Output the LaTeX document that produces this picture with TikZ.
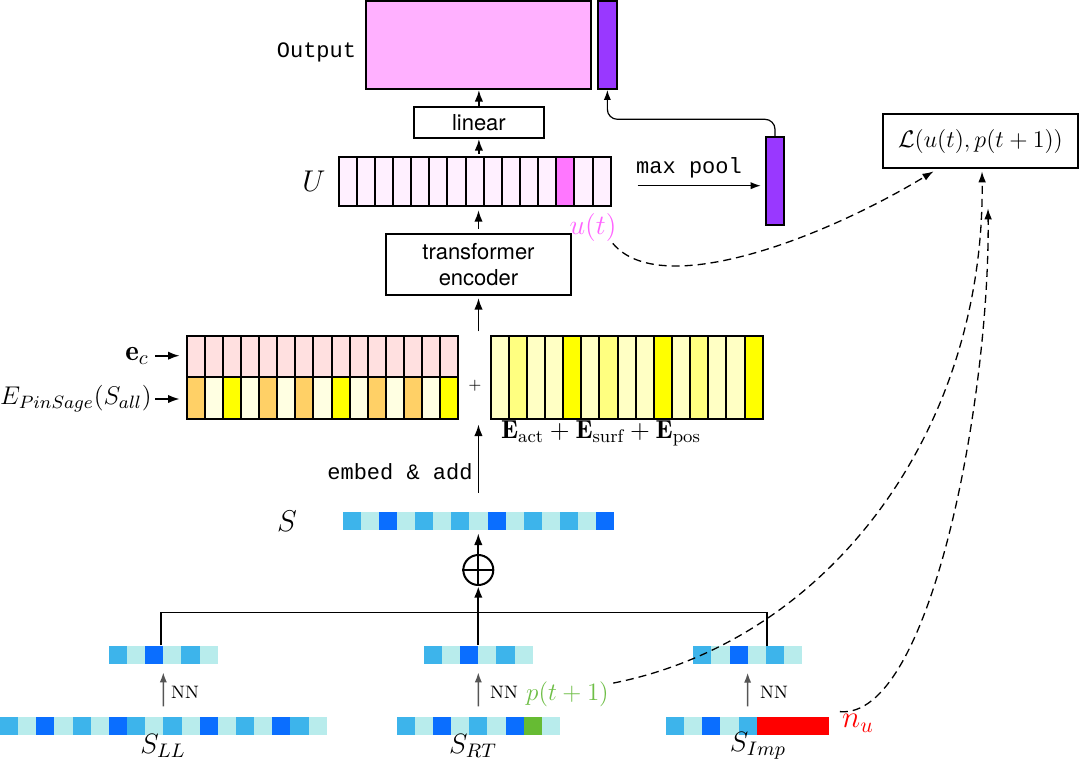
\RequirePackage{fix-cm}
\documentclass[tikz,border=0pt]{standalone}
\usepackage{fontspec}
\setsansfont{TeX Gyre Heros}
\setmonofont{Liberation Mono}
\usetikzlibrary{arrows.meta,calc,fit}
\definecolor{outpink}{RGB}{255,176,255}
\definecolor{purp}{RGB}{153,56,255}
\definecolor{ucell}{RGB}{255,240,255}
\definecolor{uhi}{RGB}{255,119,255}
\definecolor{utxt}{RGB}{255,100,255}
\definecolor{ecpink}{RGB}{255,224,224}
\definecolor{orng}{RGB}{255,208,102}
\definecolor{cream}{RGB}{255,255,226}
\definecolor{yel}{RGB}{255,255,0}
\definecolor{ylight}{RGB}{255,255,196}
\definecolor{ymed}{RGB}{255,255,128}
\definecolor{bmid}{RGB}{61,180,235}
\definecolor{blight}{RGB}{184,236,236}
\definecolor{bdark}{RGB}{10,110,255}
\definecolor{grn}{RGB}{102,187,51}
\definecolor{ptxt}{RGB}{110,190,70}
\definecolor{nngray}{RGB}{85,85,85}
\begin{document}
\begin{tikzpicture}[x=0.5pt,y=-0.5pt,
  arr/.style={-{Latex[length=5.8pt,width=4.2pt]}, line width=0.85pt},
  thinarr/.style={-{Latex[length=5pt,width=3.6pt]}, line width=0.6pt},
  nnarr/.style={-{Latex[length=5pt,width=3.6pt]}, line width=0.7pt, draw=nngray},
  dasharr/.style={-{Latex[length=5.5pt,width=3.8pt]}, line width=0.65pt, dash pattern=on 4pt off 2.5pt},
  bcell/.style={line width=1pt, draw=black},
  boxed/.style={draw, line width=1pt, inner sep=0},
  region/.style={inner sep=0},
  sans/.style={font=\sffamily\fontsize{11}{13.3}\selectfont},
  mono/.style={font=\ttfamily\fontsize{11}{13}\selectfont},
  nnlbl/.style={font=\fontsize{9}{11}\selectfont}
]
\useasboundingbox (0,0) rectangle (1080,765);

% ---------- Output ----------
\node[boxed, fill=outpink, fit={(366,1)(591,89)}] (out) {};
\node[boxed, fill=purp, fit={(597.7,1)(617,89)}] (ob) {};
\node[mono] (outlbl) at (316.5,52) {Output};

% ---------- linear ----------
\node[boxed, sans, minimum width=65.2pt, minimum height=15.7pt] (lin) at (478.9,122.3) {linear};

% ---------- U row ----------
\foreach \c [count=\i from 0] in {ucell,ucell,ucell,ucell,ucell,ucell,ucell,ucell,ucell,ucell,ucell,ucell,uhi,ucell,ucell}
  \draw[bcell, fill=\c] (338.7+\i*18.13,157) rectangle ++(18.13,48.7);
\node[region, fit={(338.7,157)(610.7,205.7)}] (U) {};
\node[font=\fontsize{15}{18}\selectfont] (Ulbl) at (314,181) {$U$};
\node[font=\fontsize{14}{16}\selectfont, text=utxt, inner sep=1pt] (ut) at (593,227) {$u(t)$};

% ---------- transformer ----------
\node[boxed, sans, align=center, minimum width=92.5pt, minimum height=30.5pt] (tr) at (478.5,264.5) {transformer\\encoder};

% ---------- left block ----------
\foreach \c [count=\i from 0] in {ecpink,ecpink,ecpink,ecpink,ecpink,ecpink,ecpink,ecpink,ecpink,ecpink,ecpink,ecpink,ecpink,ecpink,ecpink}
  \draw[bcell, fill=\c] (187+\i*18.07,335.7) rectangle ++(18.07,41.3);
\foreach \c [count=\i from 0] in {orng,cream,yel,cream,orng,cream,orng,cream,yel,cream,orng,cream,orng,cream,yel}
  \draw[bcell, fill=\c] (187+\i*18.07,377) rectangle ++(18.07,42);
\node[region, fit={(187,335.7)(458,419)}] (Lb) {};
\node[font=\fontsize{14.5}{16}\selectfont, anchor=east, inner sep=3pt] (ec) at (155,355.7) {$\mathbf{e}_c$};
\node[font=\fontsize{12.8}{15}\selectfont, anchor=east, inner sep=1.5pt] (ep) at (155,399) {$E_{PinSage}(S_{all})$};
\draw[arr, shorten >=3.5pt] (ec.east) -- (ec.east -| Lb.west);
\draw[arr, shorten >=3.5pt] (ep.east) -- (ep.east -| Lb.west);
\node[font=\fontsize{7.5}{9}\selectfont] (plus) at (475,386) {$+$};

% ---------- right block ----------
\foreach \c [count=\i from 0] in {ylight,ymed,ylight,ylight,yel,ylight,ymed,ylight,ylight,yel,ylight,ymed,ylight,ylight,yel}
  \draw[bcell, fill=\c] (490.7+\i*18.13,335.7) rectangle ++(18.13,83.3);
\node[region, fit={(490.7,335.7)(762.7,419)}] (Rb) {};
\node[font=\fontsize{13}{15}\selectfont] (eact) at (601,433) {$\mathbf{E}_{\mathrm{act}}+\mathbf{E}_{\mathrm{surf}}+\mathbf{E}_{\mathrm{pos}}$};

% ---------- S row ----------
\foreach \c [count=\i from 0] in {bmid,blight,bdark,blight,bmid,blight,bmid,blight,bdark,blight,bmid,blight,bmid,blight,bdark}
  \fill[\c] (342.7+\i*18.1,512.3) rectangle ++(18.1,17.7);
\node[region, fit={(342.7,512.3)(614.2,530)}] (S) {};
\node[font=\fontsize{15}{18}\selectfont] (Slbl) at (287,521) {$S$};
\node[mono, anchor=east, inner sep=1pt] (emb) at (475,471.7) {embed \& add};

% ---------- oplus ----------
\node[circle, draw, line width=1pt, minimum size=15pt, inner sep=0] (oplus) at (478.3,570) {};
\draw[line width=1pt] (oplus.north) -- (oplus.south) (oplus.west) -- (oplus.east);

% ---------- small NN outputs ----------
\foreach \c [count=\i from 0] in {bmid,blight,bdark,blight,bmid,blight}
  \fill[\c] (109+\i*18.1,645.7) rectangle ++(18.1,18.3);
\node[region, fit={(109,645.7)(217.6,664)}] (LLs) {};
\foreach \c [count=\i from 0] in {bmid,blight,bdark,blight,bmid,blight}
  \fill[\c] (424+\i*18.1,645.7) rectangle ++(18.1,18.3);
\node[region, fit={(424,645.7)(532.6,664)}] (RTs) {};
\foreach \c [count=\i from 0] in {bmid,blight,bdark,blight,bmid,blight}
  \fill[\c] (693.3+\i*18.1,646) rectangle ++(18.1,18.3);
\node[region, fit={(693.3,646)(801.9,664.3)}] (Imps) {};

% ---------- input sequences ----------
\foreach \c [count=\i from 0] in {bmid,blight,bdark,blight,bmid,blight,bdark,bmid,blight,bmid,blight,bdark,blight,bmid,blight,bdark,bmid,blight}
  \fill[\c] (0+\i*18.15,716.7) rectangle ++(18.15,18.3);
\node[region, fit={(0,716.7)(326.7,735)}] (LLb) {};
\foreach \c [count=\i from 0] in {bmid,blight,bdark,blight,bmid,blight,bdark,grn,blight}
  \fill[\c] (396.7+\i*18.15,716.7) rectangle ++(18.15,18.3);
\node[region, fit={(396.7,716.7)(560,735)}] (RTb) {};
\foreach \c [count=\i from 0] in {bmid,blight,bdark,blight,bmid,red,red,red,red}
  \fill[\c] (666+\i*18.15,716.7) rectangle ++(18.15,18.3);
\node[region, fit={(666,716.7)(829.4,735)}] (Impb) {};

\node[font=\fontsize{14}{16}\selectfont] (LLl) at (163,746) {$S_{LL}$};
\node[font=\fontsize{14}{16}\selectfont] (RTl) at (473,746) {$S_{RT}$};
\node[font=\fontsize{14}{16}\selectfont] (Impl) at (758,746) {$S_{Imp}$};
\node[font=\fontsize{12.5}{15}\selectfont, text=ptxt, inner sep=1pt] (pl) at (567.5,694) {$p(t+1)$};
\node[font=\fontsize{15.5}{18}\selectfont, text=red, inner sep=1pt] (nu) at (858,723) {$n_u$};

% NN arrows
\draw[nnarr, shorten <=5pt, shorten >=4pt] (LLb.north) -- (LLs.south);
\draw[nnarr, shorten <=5pt, shorten >=4pt] (RTb.north) -- (RTs.south);
\draw[nnarr, shorten <=5pt, shorten >=4pt] (Impb.north) -- (Imps.south);
\node[nnlbl] (nn1) at (185,692) {NN};
\node[nnlbl] (nn2) at (504,692) {NN};
\node[nnlbl] (nn3) at (774,692) {NN};

% bracket join
\coordinate (jL) at (161,612.5);
\coordinate (jR) at (767.3,612.5);
\draw[line width=0.85pt] (LLs.north -| jL) -- (jL) -- (jR) -- (Imps.north -| jR);
\draw[arr, line width=1.1pt] (RTs.north) -- (oplus.south);
\draw[arr, shorten >=1.5pt] (oplus.north) -- (oplus.north |- S.south);

% vertical main arrows
\draw[arr, shorten >=2.5pt] ($(S.north)+(0,-19)$) -- (S.north |- Lb.south);
\draw[arr, shorten >=1pt] ($(tr.south |- Lb.north)+(0,-4)$) -- (tr.south);
\draw[arr, shorten <=2pt, shorten >=2pt] (tr.north) -- (tr.north |- U.south);
\draw[arr, shorten <=1.5pt] (lin.south |- U.north) -- (lin.south);
\draw[arr] (lin.north) -- (lin.north |- out.south);

% ---------- max pool ----------
\node[boxed, fill=purp, fit={(765.7,137.3)(784.3,225)}] (pb) {};
\coordinate (mp) at (637.7,185.7);
\draw[thinarr, shorten >=2pt] (mp) -- (mp -| pb.west);
\node[mono] (mplbl) at (689,168) {max pool};
\coordinate (ry) at (0,119.3);
\draw[thinarr, rounded corners=5pt] (pb.north) -- (pb.north |- ry) -- (ob.south |- ry) -- (ob.south);

% ---------- loss ----------
\node[boxed, minimum width=97.8pt, minimum height=27.2pt, font=\fontsize{12}{14}\selectfont] (loss) at (980.5,141.2) {$\mathcal{L}(u(t),p(t+1))$};

% dashed connectors
\draw[dasharr] ($(ut.south east)+(-6,0)$) .. controls (660,300) and (820,240) .. ($(loss.south)+(-47,2)$);
\draw[dasharr] ($(pl.north east)+(2,4)$) .. controls (830,640) and (985,430) .. ($(loss.south)+(1.5,2)$);
\draw[dasharr] (nu.north west) .. controls (930,720) and (990,400) .. ($(loss.south)+(7.5,39)$);
\end{tikzpicture}
\end{document}
